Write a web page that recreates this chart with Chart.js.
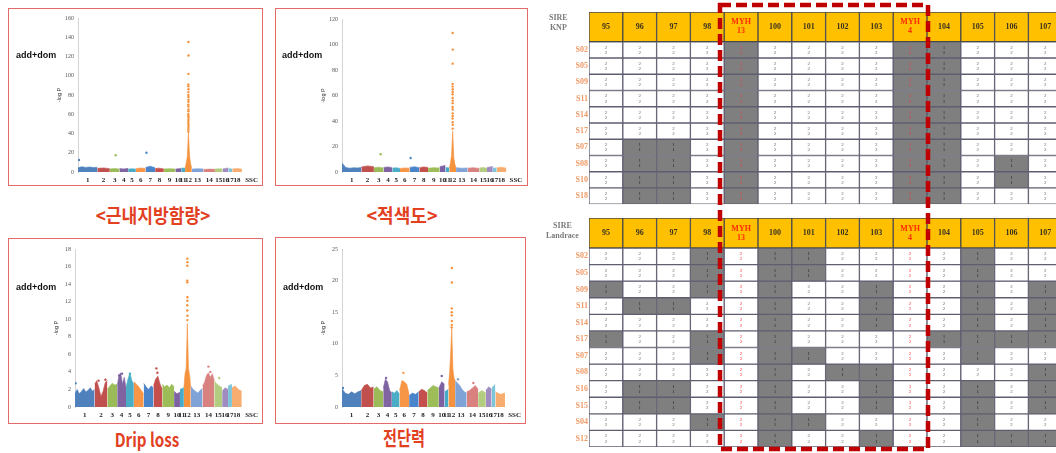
<!DOCTYPE html>
<html><head><meta charset="utf-8">
<script src="https://cdn.jsdelivr.net/npm/chart.js@4/dist/chart.umd.min.js"></script>
<style>
html,body{margin:0;padding:0;background:#fff;}
body{width:1056px;height:453px;overflow:hidden;position:relative;}
.box{position:absolute;border:1.5px solid #e46a6a;box-sizing:border-box;}
canvas{position:absolute;}
.tag{position:absolute;font:bold 9px "Liberation Sans",Arial,sans-serif;color:#111;white-space:nowrap;}
.ttl{position:absolute;font:bold 19px "Noto Sans CJK KR",sans-serif;color:#e2401f;white-space:nowrap;line-height:22px;}
.sire{position:absolute;font:bold 8px "Liberation Serif",serif;color:#7a7a7a;text-align:center;line-height:10px;white-space:nowrap;}
svg{position:absolute;left:0;top:0;}
</style></head><body>

<div class="box" style="left:8px;top:8px;width:255px;height:178px"></div>
<div class="box" style="left:275px;top:8px;width:253px;height:178px"></div>
<div class="box" style="left:8px;top:238px;width:255px;height:186px"></div>
<div class="box" style="left:275px;top:237px;width:251px;height:187px"></div>

<canvas id="p1" width="253" height="175" style="left:9px;top:10px"></canvas>
<canvas id="p2" width="251" height="176" style="left:276px;top:9px"></canvas>
<canvas id="p3" width="253" height="183" style="left:9px;top:239px"></canvas>
<canvas id="p4" width="249" height="184" style="left:276px;top:238px"></canvas>

<div class="tag" style="left:16px;top:50px">add+dom</div>
<div class="tag" style="left:282px;top:50px">add+dom</div>
<div class="tag" style="left:16px;top:282px">add+dom</div>
<div class="tag" style="left:283px;top:282px">add+dom</div>

<div class="ttl" style="left:153px;top:204px;transform:translateX(-50%) scaleX(0.9)">&lt;근내지방함량&gt;</div>
<div class="ttl" style="left:402px;top:204px;transform:translateX(-50%) scaleX(0.95)">&lt;적색도&gt;</div>
<div class="ttl" style="left:147px;top:428px;transform:translateX(-50%) scaleX(0.8)">Drip loss</div>
<div class="ttl" style="left:404px;top:427px;font-size:20px;transform:translateX(-50%) scaleX(0.76)">전단력</div>

<canvas id="t1" width="524" height="210" style="left:540px;top:0px"></canvas>
<canvas id="t2" width="524" height="243" style="left:540px;top:210px"></canvas>

<div class="sire" style="left:549px;top:13px">SIRE<br>KNP</div>
<div class="sire" style="left:546px;top:221px">SIRE<br>Landrace</div>

<svg width="1056" height="453"><rect x="720" y="5" width="208" height="444" fill="none" stroke="#c00000" stroke-width="4.5" stroke-dasharray="11 5"/></svg>

<script>
// ---------- Manhattan plot data ----------
const chrLabels = ['1','2','3','4','5','6','7','8','9','10','11','12','13','14','15','16','17','18'];
const axisName = 'SSC';
const chrWidths = [20,13,10,9,8,10,10,9,12,6,4,7,12,12,8,6,4,10];
const chrColors = ['#4f81bd','#c0504d','#9bbb59','#8064a2','#4bacc6','#f79646','#4a85cc','#c44f4c','#9cbd57','#7d62a3','#47aac8','#f5923e','#7fa3d6','#d8817f','#b3cd80','#a08cc0','#7cc4d8','#f8ad70'];

// intramuscular fat (근내지방함량)
const imfLevels = [
 [4.5,5.5,4.8,5.2,4.6,5.0],[3.8,4.2,3.5],[3.2,3.6,3.0],[3.6,3.2,3.8],[3.0,3.4,3.1],[3.4,4.2,3.6],
 [4.8,6.0,4.4],[3.6,4.0,3.2],[3.2,3.5,3.0],[3.0,3.6],[4.2,3.8],[4,9,16,42,17,8,4],
 [3.0,3.4,3.2],[2.6,3.0,2.8],[3.0,3.4,3.0],[3.2,4.2],[3.6,3.0],[3.2,3.6,3.0]];
const imfHitX = [1,39,71,114.5,114.6,114.5,114.4,114.5,114.6,114.5,114.4,114.5,114.6,114.5,114.4,114.5,114.6,114.5,114.4,114.5,114.6,114.5,114.4,114.5,114.6,114.5,114.4,114.5];
const imfHitY = [12.5,17.5,20,135,121,102,91,89,86,83,80,78,75,73,70,68,65,63,60,58,56,54,52,50,48,46,44,42];

// redness (적색도)
const redLevels = [
 [7,3.5,3.0,3.4,3.2,3.6],[4.0,4.8,4.2],[3.4,3.8,3.2],[3.6,4.0,3.4],[3.0,3.4,2.8],[2.8,3.2,3.0],
 [3.6,4.2,3.4],[3.4,4.0,3.6],[3.0,3.4,3.2],[4.2,5.2],[3.6,3.2],[3,7,13,32,11,6,3],
 [3.4,3.0,3.2],[3.0,3.4,2.8],[3.2,3.6,3.0],[3.6,4.4],[3.2,3.0],[3.4,3.8,3.0]];
const redHitX = [40,71,114.5,114.6,114.5,114.4,114.5,114.6,114.5,114.4,114.5,114.6,114.5,114.4,114.5,114.6,114.5,114.4,114.5,114.6,114.5];
const redHitY = [14,11,109,96,85,69,67,65,63,61,58,56,54,51,49,46,44,42,39,37,34];

// drip loss
const dripLevels = [
 [1.6,2.0,1.5,1.8,2.1,1.7,1.9,2.2,1.8,2.0],[2.6,3.0,2.2,1.2,1.8,2.8,3.0],[2.0,2.4,2.7,2.5,2.6],
 [2.4,3.6,3.9,2.6,3.4,2.2],[2.2,3.2,3.9,3.0,2.6],[2.9,2.6,2.3,1.9,1.5],[2.7,2.3,2.0,2.4,2.2],
 [2.4,3.2,3.5,2.6,2.0],[2.6,2.3,2.5,2.2,2.6,2.3],[1.8,1.5,1.7],[2.0,2.2],[2.2,3.8,4.4,9.5,4.4,3.6,2.2],
 [2.4,2.0,1.8,1.6,1.9,2.1],[2.4,2.8,3.6,3.9,3.4,3.8,3.0],[3.0,2.6,2.4,2.2],[1.8,2.2,2.0],[2.4,2.6],[2.2,2.4,2.0,1.8]];
const dripHitX = [0.5,24,31,45,48,56,83,84,114.5,114.6,114.5,114.4,114.5,114.6,114.5,114.4,114.5,114.6,114.5,136,138,147];
const dripHitY = [2.7,3.0,3.1,3.6,3.8,3.8,4.4,3.9,16.9,16.5,16.1,14.4,14.2,12.5,12.1,11.6,11.0,10.4,9.9,4.6,4.0,3.3];

// shear force (전단력)
const shearLevels = [
 [2.9,2.2,2.0,2.4,2.1,2.4,2.6],[2.6,3.4,3.6,3.0,3.2],[2.8,3.2,2.6,2.4],[3.0,4.4,4.0,2.6,2.2],
 [2.4,2.2,2.6,2.0],[2.6,4.2,4.0,3.6,2.0],[1.8,2.2,2.0,2.4],[2.4,2.8,2.6,2.2],[2.6,3.0,3.4,3.2,3.0],
 [3.0,4.0,3.6],[2.4,2.8],[3.5,5.2,8.5,12.5,6.0,4.6,4.2],[4.2,3.8,3.4,2.8,2.4,2.2],[2.4,2.6,3.0,3.4,2.8],
 [2.2,2.6,2.2],[2.6,3.2,2.8],[3.0,3.6],[2.4,2.0,2.2]];
const shearHitX = [1,46,64,104,114.5,114.6,114.5,114.4,114.5,114.6,114.5,114.4,121,137];
const shearHitY = [3.0,4.6,5.4,4.9,22.0,19.7,15.6,15.0,14.5,13.6,13.0,12.6,4.4,3.8];

// ---------- genotype table data ----------
const markerCols = ['95','96','97','98','MYH 13','100','101','102','103','MYH 4','104','105','106','107'];
const knpSires = ['S02','S05','S09','S11','S14','S17','S07','S08','S10','S18'];
const knpGeno = [
 [2,2,2,2,1,2,2,2,2,1,1,2,2,2],
 [2,2,2,2,1,2,2,2,2,1,1,2,2,2],
 [2,2,2,2,1,2,2,2,2,1,1,2,2,2],
 [2,2,2,2,1,2,2,2,2,1,1,2,2,2],
 [2,2,2,2,1,2,2,2,2,1,1,2,2,2],
 [2,2,2,2,1,2,2,2,2,1,1,2,2,2],
 [2,1,1,2,1,2,2,2,2,1,1,2,2,2],
 [2,1,1,2,1,2,2,2,2,1,1,2,1,2],
 [2,1,1,2,1,2,2,2,2,1,1,2,1,2],
 [2,1,1,2,1,2,2,2,2,1,1,2,2,2]];
const lrSires = ['S02','S05','S09','S11','S14','S17','S07','S08','S16','S15','S04','S12'];
const lrGeno = [
 [2,2,2,1,2,1,1,2,2,2,2,1,2,2],
 [2,2,2,1,2,1,1,2,2,2,2,1,2,2],
 [1,2,2,1,2,1,2,2,1,2,2,1,2,1],
 [2,1,1,2,2,1,2,2,1,2,2,1,2,1],
 [2,2,2,2,2,1,2,2,1,2,2,1,2,1],
 [1,2,2,1,2,1,2,2,2,2,1,1,1,1],
 [2,2,2,1,2,1,1,2,2,2,2,1,2,2],
 [2,2,2,2,2,1,2,1,1,2,2,2,2,1],
 [2,1,1,2,2,1,2,2,1,2,2,1,2,1],
 [2,1,1,2,2,1,2,2,1,2,2,1,2,1],
 [2,2,2,1,2,1,1,2,2,2,2,1,2,2],
 [2,2,2,2,2,1,2,2,1,2,2,1,1,1]];

// ---------- Manhattan charts ----------
const starts = []; { let s = 0; chrWidths.forEach(w => { starts.push(s); s += w; }); }
const tickPos = chrWidths.map((w,i) => starts[i] + w/2).concat([180]);
const tickLabels = chrLabels.concat([axisName]);
function chrOf(x){ for (let i = starts.length-1; i >= 0; i--) if (x >= starts[i]) return i; return 0; }

function manhattan(id, levels, hitX, hitY, yMax, yStep, geo){
  const ds = levels.map((vals,i) => ({
    data: vals.map((v,j) => ({x: starts[i] + j*chrWidths[i]/(vals.length-1), y: v})),
    borderColor: chrColors[i], backgroundColor: chrColors[i], borderWidth: 0.6,
    fill: 'origin', pointRadius: 0, tension: 0, order: 2
  }));
  ds.push({
    data: hitX.map((x,k) => ({x: x, y: hitY[k]})), showLine: false, pointRadius: 1.2, pointBorderWidth: 0,
    pointBackgroundColor: hitX.map(x => chrColors[chrOf(x)]), order: 1
  });
  new Chart(document.getElementById(id), {
    type: 'line', data: {datasets: ds},
    options: {
      responsive: false, animation: false, events: [],
      layout: {padding: {left: geo.left - 26, top: geo.top, right: geo.w - geo.left - geo.cw, bottom: 0}},
      plugins: {legend: {display: false}, tooltip: {enabled: false}},
      scales: {
        x: {type: 'linear', min: 0, max: 180, grid: {display: false, drawTicks: false}, border: {display: false},
            afterBuildTicks: s => { s.ticks = tickPos.map(v => ({value: v})); },
            afterFit: s => { s.height = geo.h - geo.bottom; },
            ticks: {autoSkip: false, maxRotation: 0, minRotation: 0, padding: 4, color: '#222',
                    font: {family: 'Liberation Serif', size: 7, weight: 'bold'}, callback: (v,i) => tickLabels[i]}},
        y: {type: 'linear', min: 0, max: yMax, grid: {display: false, drawTicks: false}, border: {color: '#d4d4d4'},
            afterFit: s => { s.width = 26; },
            ticks: {stepSize: yStep, padding: 4, color: '#555', font: {family: 'Liberation Serif', size: 6}},
            title: {display: true, text: '-log P', color: '#333', font: {family: 'Liberation Sans', size: 5.5}, padding: {top: 4, bottom: 0}}}
      }
    }
  });
}
manhattan('p1', imfLevels, imfHitX, imfHitY, 160, 20, {w:253, h:175, left:69, top:8, bottom:162, cw:178});
manhattan('p2', redLevels, redHitX, redHitY, 120, 20, {w:251, h:176, left:66, top:10, bottom:163, cw:174});
manhattan('p3', dripLevels, dripHitX, dripHitY, 18, 2, {w:253, h:183, left:66, top:10, bottom:168, cw:178});
manhattan('p4', shearLevels, shearHitX, shearHitY, 25, 5, {w:249, h:184, left:66, top:11, bottom:169, cw:174});

// ---------- genotype tables ----------
const cellText = {
  id: 'cellText',
  afterDatasetsDraw(chart){
    const ctx = chart.ctx, cols = chart.data.labels;
    chart.data.datasets.forEach((ds, di) => {
      const meta = chart.getDatasetMeta(di);
      meta.data.forEach((el, ci) => {
        const cx = el.x, cy = (el.y + el.base) / 2;
        const myh = cols[ci].indexOf('MYH') === 0;
        ctx.save(); ctx.textAlign = 'center'; ctx.textBaseline = 'middle';
        if (ds.isHeader){
          const lines = cols[ci].split(' ');
          ctx.font = 'bold 8px "Liberation Serif", serif';
          ctx.fillStyle = myh ? '#ff2a00' : '#3a3320';
          lines.forEach((t, k) => ctx.fillText(t, cx, cy + (k - (lines.length-1)/2) * 9));
        } else {
          const g = ds.geno[ci];
          ctx.font = '5px "Liberation Serif", serif';
          ctx.fillStyle = myh ? '#ff3030' : (g === 1 ? '#262626' : '#666');
          ctx.fillText(String(g), cx, cy - 2.6);
          ctx.fillText(String(g), cx, cy + 2.6);
        }
        ctx.restore();
      });
    });
  }
};

function genoTable(id, sires, geno, geo){
  const H = geo.headerUnits;
  const datasets = [{isHeader: true, data: markerCols.map(() => [-H, 0]), backgroundColor: '#ffc000',
                     borderColor: '#4a4a4a', borderWidth: 1, borderSkipped: false}];
  sires.forEach((s, r) => {
    datasets.push({geno: geno[r], data: geno[r].map(() => [r, r + 1]),
      backgroundColor: geno[r].map(g => g === 1 ? '#7f7f7f' : '#ffffff'),
      borderColor: '#5e5e70', borderWidth: 1, borderSkipped: false});
  });
  new Chart(document.getElementById(id), {
    type: 'bar', data: {labels: markerCols, datasets: datasets},
    options: {
      responsive: false, animation: false, events: [],
      datasets: {bar: {grouped: false, barPercentage: 1, categoryPercentage: 1}},
      layout: {padding: {left: 0, right: geo.w - 49 - geo.cw, top: geo.top, bottom: geo.bottom}},
      plugins: {legend: {display: false}, tooltip: {enabled: false}},
      scales: {
        x: {type: 'category', display: false},
        y: {type: 'linear', reverse: true, min: -H, max: sires.length,
            grid: {display: false, drawTicks: false}, border: {display: false},
            afterFit: s => { s.width = 49; },
            afterBuildTicks: s => { s.ticks = sires.map((_, i) => ({value: i + 0.5})); },
            ticks: {autoSkip: false, padding: 1, color: '#f09a66', font: {family: 'Liberation Serif', size: 8, weight: 'bold'},
                    callback: (v, i) => sires[i]}}
      }
    },
    plugins: [cellText]
  });
}
genoTable('t1', knpSires, knpGeno, {w:524, cw:473.2, top:12, bottom:4, headerUnits:1.83});
genoTable('t2', lrSires, lrGeno, {w:524, cw:473.2, top:8, bottom:6, headerUnits:1.81});
</script>
</body></html>
